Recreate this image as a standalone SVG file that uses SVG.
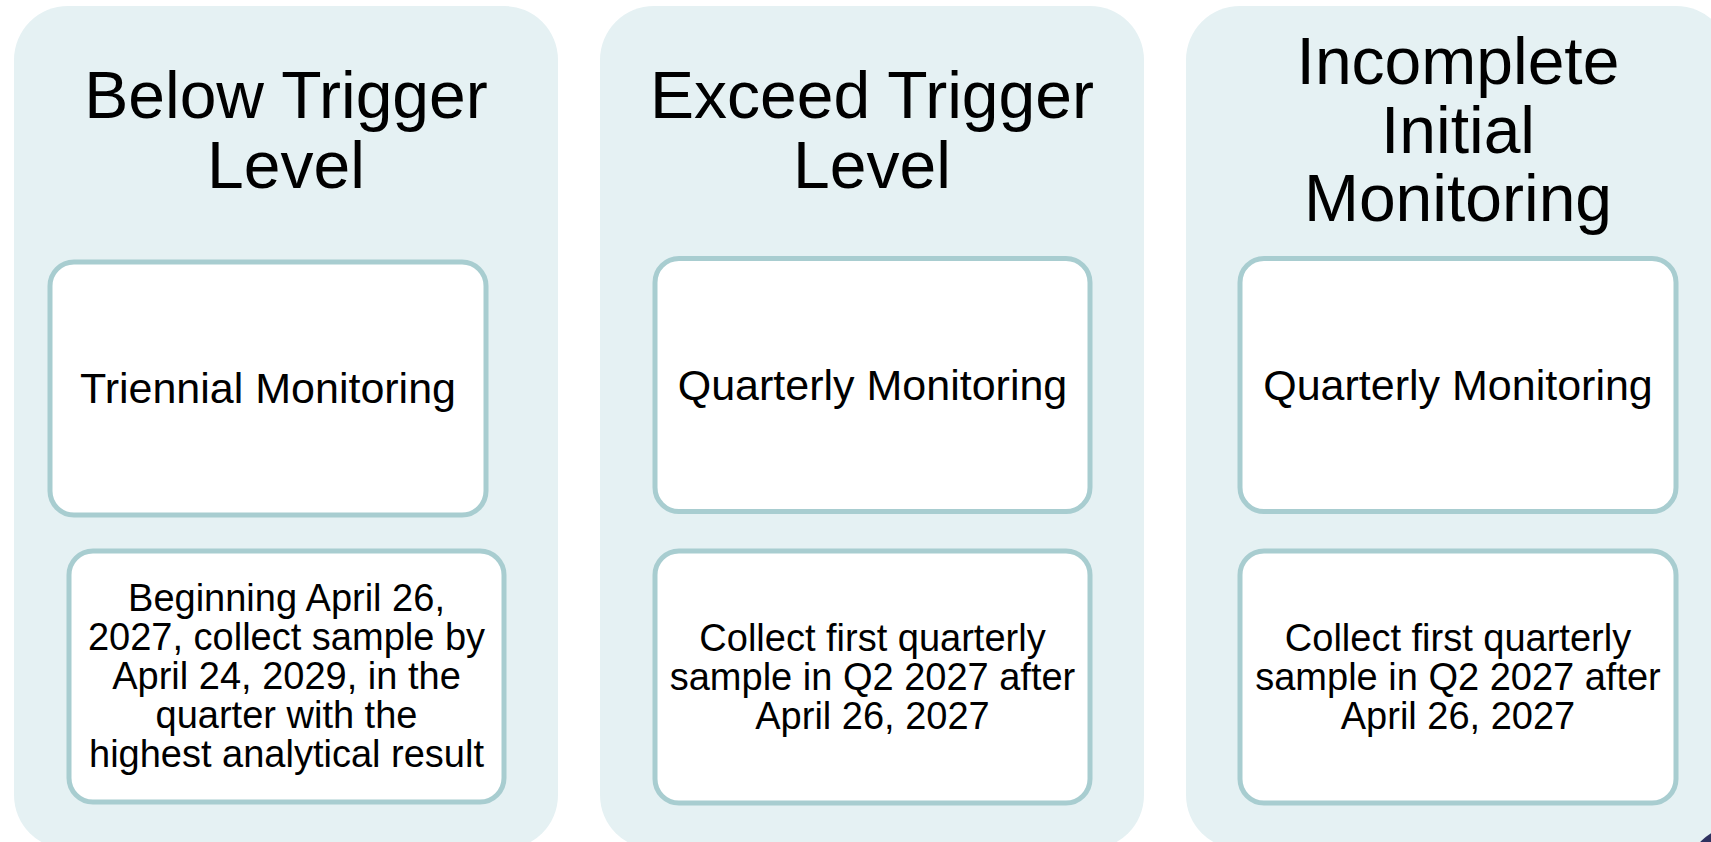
<svg xmlns="http://www.w3.org/2000/svg" width="1711" height="842" viewBox="0 0 1711 842">
<style>
.panel{fill:#E5F1F3;}
.box{fill:#FFFFFF;stroke:#A8CDD0;stroke-width:5;}
.head{font-family:"Liberation Sans",Arial,sans-serif;font-size:66px;fill:#000;text-anchor:middle;}
.t1{font-family:"Liberation Sans",Arial,sans-serif;font-size:43px;fill:#000;text-anchor:middle;}
.t2{font-family:"Liberation Sans",Arial,sans-serif;font-size:38px;fill:#000;text-anchor:middle;}
</style>
<rect width="1711" height="842" fill="#FFFFFF"/>
<g id="connectors"></g>
<g id="panel-below">
  <rect class="panel" x="14" y="6" width="544" height="843" rx="54"/>
  <text class="head" x="286" y="118">Below Trigger</text>
  <text class="head" x="286" y="188">Level</text>
</g>
<g id="box-triennial">
  <rect class="box" x="50" y="262" width="436" height="253" rx="24"/>
  <text class="t1" x="268" y="403">Triennial Monitoring</text>
</g>
<g id="box-below-detail">
  <rect class="box" x="69" y="551" width="435" height="251" rx="24"/>
  <text class="t2" x="286.5" y="611">Beginning April 26,</text>
  <text class="t2" x="286.5" y="650">2027, collect sample by</text>
  <text class="t2" x="286.5" y="689">April 24, 2029, in the</text>
  <text class="t2" x="286.5" y="728">quarter with the</text>
  <text class="t2" x="286.5" y="767">highest analytical result</text>
</g>
<g id="panel-exceed">
  <rect class="panel" x="600" y="6" width="544" height="843" rx="54"/>
  <text class="head" x="872" y="118">Exceed Trigger</text>
  <text class="head" x="872" y="188">Level</text>
</g>
<g id="box-quarterly-exceed">
  <rect class="box" x="655" y="258.5" width="435" height="253" rx="24"/>
  <text class="t1" x="872.5" y="400">Quarterly Monitoring</text>
</g>
<g id="box-exceed-detail">
  <rect class="box" x="655" y="551" width="435" height="252" rx="24"/>
  <text class="t2" x="872.5" y="651">Collect first quarterly</text>
  <text class="t2" x="872.5" y="690">sample in Q2 2027 after</text>
  <text class="t2" x="872.5" y="729">April 26, 2027</text>
</g>
<g id="panel-incomplete">
  <rect class="panel" x="1186" y="6" width="544" height="843" rx="54"/>
  <text class="head" x="1458" y="84">Incomplete</text>
  <text class="head" x="1458" y="153">Initial</text>
  <text class="head" x="1458" y="221">Monitoring</text>
</g>
<g id="box-quarterly-incomplete">
  <rect class="box" x="1240" y="258.5" width="436" height="253" rx="24"/>
  <text class="t1" x="1458" y="400">Quarterly Monitoring</text>
</g>
<g id="box-incomplete-detail">
  <rect class="box" x="1240" y="551" width="436" height="252" rx="24"/>
  <text class="t2" x="1458" y="651">Collect first quarterly</text>
  <text class="t2" x="1458" y="690">sample in Q2 2027 after</text>
  <text class="t2" x="1458" y="729">April 26, 2027</text>
</g>
<circle cx="1740" cy="880" r="55" fill="#2E3160"/>
</svg>
